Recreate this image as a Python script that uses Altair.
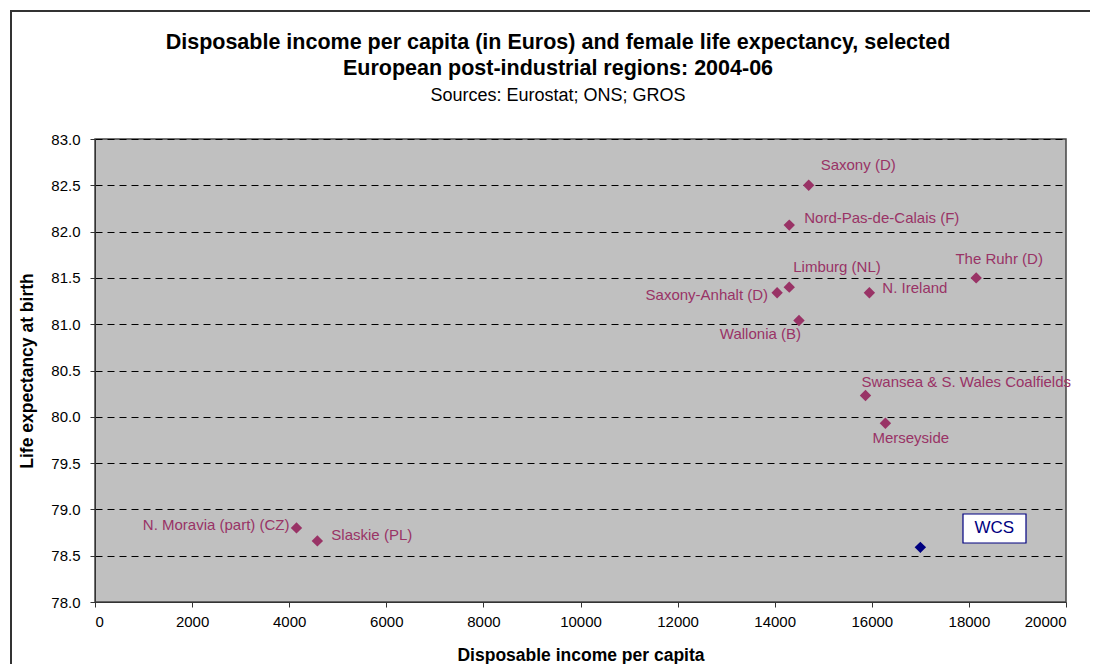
import altair as alt
import pandas as pd

names = ["Saxony (D)", "Nord-Pas-de-Calais  (F)", "Limburg (NL)", "Saxony-Anhalt (D)",
         "N. Ireland", "The Ruhr (D)", "Wallonia (B)", "Swansea & S. Wales Coalfields",
         "Merseyside", "N. Moravia (part) (CZ)", "Slaskie (PL)", "WCS"]
income = [14700, 14300, 14300, 14050, 15950, 18150, 14500, 15870, 16280, 4150, 4580, 17000]
life_exp = [82.50, 82.07, 81.40, 81.34, 81.34, 81.50, 81.04, 80.23, 79.93, 78.80, 78.66, 78.59]
group = ["Other"] * 11 + ["WCS"]

x_ticks = list(range(0, 20001, 2000))
y_ticks = [78.0, 78.5, 79.0, 79.5, 80.0, 80.5, 81.0, 81.5, 82.0, 82.5, 83.0]

title_lines = ["Disposable income per capita (in Euros) and female life expectancy, selected",
               "European post-industrial regions: 2004-06"]
subtitle = "Sources: Eurostat; ONS; GROS"

df = pd.DataFrame({"name": names, "income": income, "life": life_exp, "group": group})

PLUM = "#993366"
NAVY = "#000080"
FONT = "Liberation Sans"

# label placement (align, dx, dy) relative to each point
label_style = {
    "Saxony (D)": ("left", 12, -20),
    "Nord-Pas-de-Calais  (F)": ("left", 15, -7),
    "Limburg (NL)": ("left", 4, -20),
    "Saxony-Anhalt (D)": ("right", -9, 2),
    "N. Ireland": ("left", 13, -5),
    "The Ruhr (D)": ("center", 23, -19),
    "Wallonia (B)": ("right", 2, 14),
    "Swansea & S. Wales Coalfields": ("left", -4, -14),
    "Merseyside": ("left", -13, 15),
    "N. Moravia (part) (CZ)": ("right", -7, -3),
    "Slaskie (PL)": ("left", 14, -6),
}

W, H = 971, 463

xenc = alt.X("income:Q", scale=alt.Scale(domain=[0, 20000], nice=False),
             axis=alt.Axis(values=x_ticks, format="d", grid=False, title="Disposable income per capita",
                           titleFontSize=17.5, titleFontWeight="bold", titleFont=FONT, titlePadding=17,
                           labelFontSize=15, labelFont=FONT, labelColor="black", labelPadding=7,
                           tickSize=5, tickColor="#333333", domainColor="#333333", titleColor="black"))
yenc = alt.Y("life:Q", scale=alt.Scale(domain=[78, 83], nice=False, zero=False),
             axis=alt.Axis(values=y_ticks, format=".1f", grid=True, gridColor="black", gridDash=[7, 5],
                           gridWidth=1, title="Life expectancy at birth",
                           titleFontSize=17.5, titleFontWeight="bold", titleFont=FONT, titlePadding=14,
                           labelFontSize=15, labelFont=FONT, labelColor="black", labelPadding=10,
                           tickSize=5, tickColor="#333333", domainColor="#333333", titleColor="black"))

base = alt.Chart(df)
one = alt.Chart(pd.DataFrame({"k": [0]}))

points = base.mark_point(shape="diamond", filled=True, size=130, opacity=1).encode(
    x=xenc, y=yenc,
    color=alt.Color("group:N", scale=alt.Scale(domain=["Other", "WCS"], range=[PLUM, NAVY]), legend=None),
)

labels = []
for nm, (al, dx, dy) in label_style.items():
    labels.append(
        base.transform_filter(alt.datum.name == nm).mark_text(
            align=al, baseline="middle", dx=dx, dy=dy, fontSize=15, font=FONT, color=PLUM
        ).encode(x="income:Q", y="life:Q", text="name:N")
    )

wcs_box = one.mark_rect(fill="white", stroke=NAVY, strokeWidth=1.2).encode(
    x=alt.value(868), x2=alt.value(931), y=alt.value(375), y2=alt.value(404))

wcs_text = base.transform_filter(alt.datum.name == "WCS").mark_text(
    align="center", baseline="middle", dx=74, dy=-19, fontSize=17, font=FONT, color=NAVY
).encode(x="income:Q", y="life:Q", text="name:N")

# outer chart frame (top and left edges visible; the rest runs off the picture)
frame_top = one.mark_rule(stroke="#333333", strokeWidth=2).encode(
    x=alt.value(-85), x2=alt.value(1100), y=alt.value(-128), y2=alt.value(-128))
frame_left = one.mark_rule(stroke="#333333", strokeWidth=2).encode(
    x=alt.value(-84), x2=alt.value(-84), y=alt.value(-129), y2=alt.value(600))

t1 = one.mark_text(fontSize=21.5, fontWeight="bold", font=FONT, color="black",
                   align="center", baseline="middle").encode(
    x=alt.value(463), y=alt.value(-96), text=alt.value(title_lines[0]))
t2 = one.mark_text(fontSize=21.5, fontWeight="bold", font=FONT, color="black",
                   align="center", baseline="middle").encode(
    x=alt.value(463), y=alt.value(-70), text=alt.value(title_lines[1]))
t3 = one.mark_text(fontSize=18, font=FONT, color="black",
                   align="center", baseline="middle").encode(
    x=alt.value(463), y=alt.value(-43), text=alt.value(subtitle))

chart = alt.layer(frame_top, frame_left, t1, t2, t3, points, *labels, wcs_box, wcs_text).properties(
    width=W, height=H,
    autosize=alt.AutoSizeParams(type="none"),
    padding={"left": 87, "top": 131, "right": 24, "bottom": 62},
    background="white",
).configure_view(fill="#C0C0C0", stroke="#444444", strokeWidth=1.5)

chart.save("out.html", embed_options={"renderer": "svg", "actions": False})
